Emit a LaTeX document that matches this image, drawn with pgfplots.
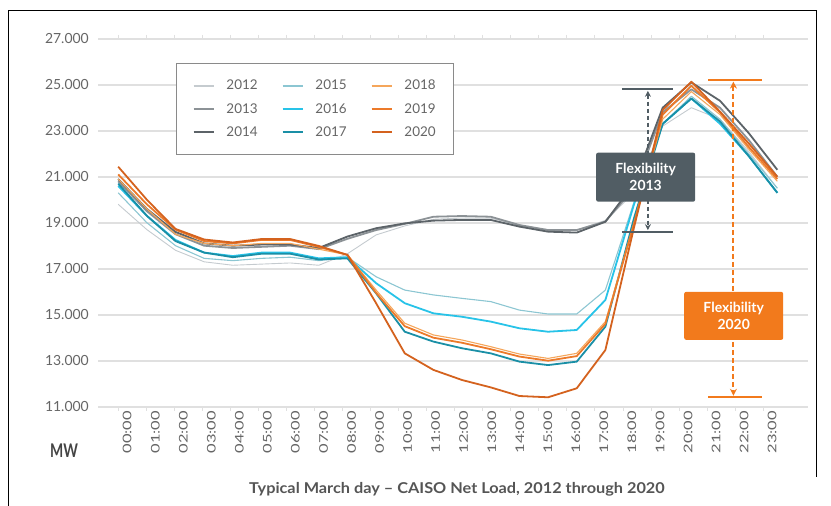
\documentclass[border=0pt]{standalone}
\usepackage{pgfplots}
\pgfplotsset{compat=1.18}
\usepackage{pgfplotstable}
\usepackage{fontspec}
\setmainfont{Lato}
\usepackage{graphicx}
\usetikzlibrary{arrows.meta}

\definecolor{c2012}{HTML}{C5CBCF}
\definecolor{c2013}{HTML}{8C9296}
\definecolor{c2014}{HTML}{5C6368}
\definecolor{c2015}{HTML}{8CC6D2}
\definecolor{c2016}{HTML}{28C3E8}
\definecolor{c2017}{HTML}{1A8FA6}
\definecolor{c2018}{HTML}{F5A65B}
\definecolor{c2019}{HTML}{EC7A2A}
\definecolor{c2020}{HTML}{D4621E}
\definecolor{gridc}{HTML}{E0E0E0}
\definecolor{tickc}{HTML}{666666}
\definecolor{titlec}{HTML}{555555}
\definecolor{legc}{HTML}{8A8A8A}
\definecolor{flexgray}{HTML}{515D64}
\definecolor{flexorange}{HTML}{F27A1C}

\newcommand{\xl}[1]{\scalebox{1.38}[1]{#1}}

\pgfplotstableread{
x      y2012 y2013 y2014 y2015 y2016 y2017 y2018 y2019 y2020
0      19800 20800 20900 20300 20600 20700 20900 21100 21435
1.022  18700 19500 19600 19000 19300 19300 19600 19800 20000
2.044  17800 18500 18600 18000 18250 18200 18500 18700 18730
3.066  17300 18000 18100 17450 17700 17700 18100 18200 18270
4.088  17150 17900 18000 17350 17550 17500 18000 18100 18140
5.110  17200 17950 18050 17450 17700 17650 18100 18250 18290
6.132  17250 18000 18050 17500 17700 17650 18100 18250 18290
7.154  17150 17850 17900 17350 17450 17400 17850 17950 17990
8.176  17650 18300 18400 17500 17500 17450 17600 17600 17600
9.198  18470 18680 18760 16650 16370 15930 16070 15950 15500
10.220 18860 18950 18970 16070 15500 14260 14630 14500 13320
11.242 19150 19260 19090 15860 15060 13830 14120 14000 12600
12.264 19200 19290 19120 15710 14910 13540 13900 13780 12160
13.286 19200 19260 19120 15570 14700 13320 13610 13500 11840
14.308 18880 18900 18830 15200 14410 12960 13290 13180 11465
15.330 18700 18680 18610 15030 14260 12810 13100 13000 11410
16.352 18680 18680 18570 15030 14335 12960 13320 13200 11800
17.374 19100 19050 19040 16070 15640 14480 14700 14600 13465
18.396 20300 20500 20700 19900 19800 19200 19000 18950 18800
19.418 23200 23800 24000 23300 23300 23300 23500 23700 23900
20.440 24000 24800 25100 24500 24400 24400 24700 24950 25130
21.462 23500 24000 24300 23500 23300 23400 23700 23800 23830
22.484 22100 22600 22900 22000 21900 21900 22200 22300 22450
23.506 20500 21000 21300 20500 20300 20300 20800 20900 21000
}\loadtable

\begin{document}
\begin{tikzpicture}
\path[use as bounding box] (0bp,0bp) rectangle (831bp,-506bp);
\draw[black, line width=1bp] (8bp,-506bp) -- (8bp,-10bp) -- (816bp,-10bp) -- (816bp,-477bp);
\begin{axis}[
  at={(98bp,-406.7bp)}, anchor=south west,
  scale only axis, width=710bp, height=368bp,
  xmin=-0.72, xmax=24.6, ymin=11000, ymax=27000,
  axis line style={draw=none},
  clip=false,
  ytick={11000,13000,...,27000},
  ymajorgrids, grid style={draw=gridc, line width=1.8bp},
  ytick style={draw=none},
  scaled y ticks=false,
  yticklabel style={font=\fontsize{14}{14}\selectfont, text=tickc, inner sep=0pt, xshift=-5bp},
  xtick={0,1,...,23},
  xticklabels={\xl{00:00},\xl{01:00},\xl{02:00},\xl{03:00},\xl{04:00},\xl{05:00},\xl{06:00},\xl{07:00},\xl{08:00},\xl{09:00},\xl{10:00},\xl{11:00},\xl{12:00},\xl{13:00},\xl{14:00},\xl{15:00},\xl{16:00},\xl{17:00},\xl{18:00},\xl{19:00},\xl{20:00},\xl{21:00},\xl{22:00},\xl{23:00}},
  xtick style={draw=gridc, line width=0.8bp},
  tick align=outside, major tick length=4bp,
  xticklabel style={rotate=90, anchor=east, font=\fontsize{12}{12}\selectfont, text=tickc, inner sep=0pt, yshift=-9bp},
  /pgf/number format/assume math mode=true,
  /pgf/number format/1000 sep={.},
  legend columns=3, transpose legend,
  legend image code/.code={\draw[#1] (0bp,0bp) -- (20bp,0bp);},
  legend style={at={(rel axis cs:0.11,0.935)}, anchor=north west, draw=legc, line width=1.2bp, fill=white,
    font=\fontsize{13.5}{14}\selectfont, text=tickc, inner xsep=16bp, inner ysep=15bp, row sep=8bp,
    /tikz/every even column/.append style={column sep=22bp},
    /tikz/every odd column/.append style={column sep=10bp}},
  legend cell align=left,
  every axis plot/.append style={line join=round},
]
\addplot[c2012, line width=0.9bp, legend image post style={line width=1.5bp}] table[x=x,y=y2012]{\loadtable};
\addlegendentry{2012}
\addplot[c2013, line width=1.8bp] table[x=x,y=y2013]{\loadtable};
\addlegendentry{2013}
\addplot[c2014, line width=1.8bp] table[x=x,y=y2014]{\loadtable};
\addlegendentry{2014}
\addplot[c2015, line width=1.1bp, legend image post style={line width=1.5bp}] table[x=x,y=y2015]{\loadtable};
\addlegendentry{2015}
\addplot[c2016, line width=1.8bp] table[x=x,y=y2016]{\loadtable};
\addlegendentry{2016}
\addplot[c2017, line width=1.8bp] table[x=x,y=y2017]{\loadtable};
\addlegendentry{2017}
\addplot[c2018, line width=1.1bp, legend image post style={line width=1.5bp}] table[x=x,y=y2018]{\loadtable};
\addlegendentry{2018}
\addplot[c2019, line width=1.8bp] table[x=x,y=y2019]{\loadtable};
\addlegendentry{2019}
\addplot[c2020, line width=1.8bp] table[x=x,y=y2020]{\loadtable};
\addlegendentry{2020}

% Flexibility 2013
\draw[flexgray, line width=2bp] (axis cs:17.96,24800) -- (axis cs:19.78,24800);
\draw[flexgray, line width=2bp] (axis cs:17.96,18610) -- (axis cs:19.78,18610);
\draw[flexgray, line width=1.8bp, dash pattern=on 4bp off 3bp, {Stealth[length=6bp,width=6bp]}-{Stealth[length=6bp,width=6bp]}, shorten >=1.5bp, shorten <=1.5bp] (axis cs:18.89,24800) -- (axis cs:18.89,18610);
\node[fill=flexgray, text=white, rounded corners=2bp, minimum width=99bp, minimum height=49bp, align=center, inner sep=0pt, font=\bfseries\fontsize{14}{17}\selectfont] at (axis cs:18.81,20980) {Flexibility\\2013};

% Flexibility 2020
\draw[flexorange, line width=2.2bp] (axis cs:21.04,25200) -- (axis cs:22.96,25200);
\draw[flexorange, line width=2.2bp] (axis cs:21.04,11410) -- (axis cs:22.96,11410);
\draw[flexorange, line width=2bp, dash pattern=on 5bp off 3bp, {Stealth[length=7bp,width=7bp]}-{Stealth[length=7bp,width=7bp]}, shorten >=1.5bp, shorten <=1.5bp] (axis cs:21.94,25200) -- (axis cs:21.94,11410);
\node[fill=flexorange, text=white, rounded corners=2bp, minimum width=99bp, minimum height=48bp, align=center, inner sep=0pt, font=\bfseries\fontsize{14}{17}\selectfont] at (axis cs:21.95,14950) {Flexibility\\2020};
\end{axis}
\node[font=\bfseries\fontsize{14}{14}\selectfont, text=titlec!80!black] at (64bp,-451bp) {\scalebox{1}[1.35]{MW}};
\node[font=\bfseries\fontsize{15}{15}\selectfont, text=titlec, anchor=base] at (457bp,-493.7bp) {\scalebox{1.09}[1]{Typical March day – CAISO Net Load, 2012 through 2020}};
\end{tikzpicture}
\end{document}
